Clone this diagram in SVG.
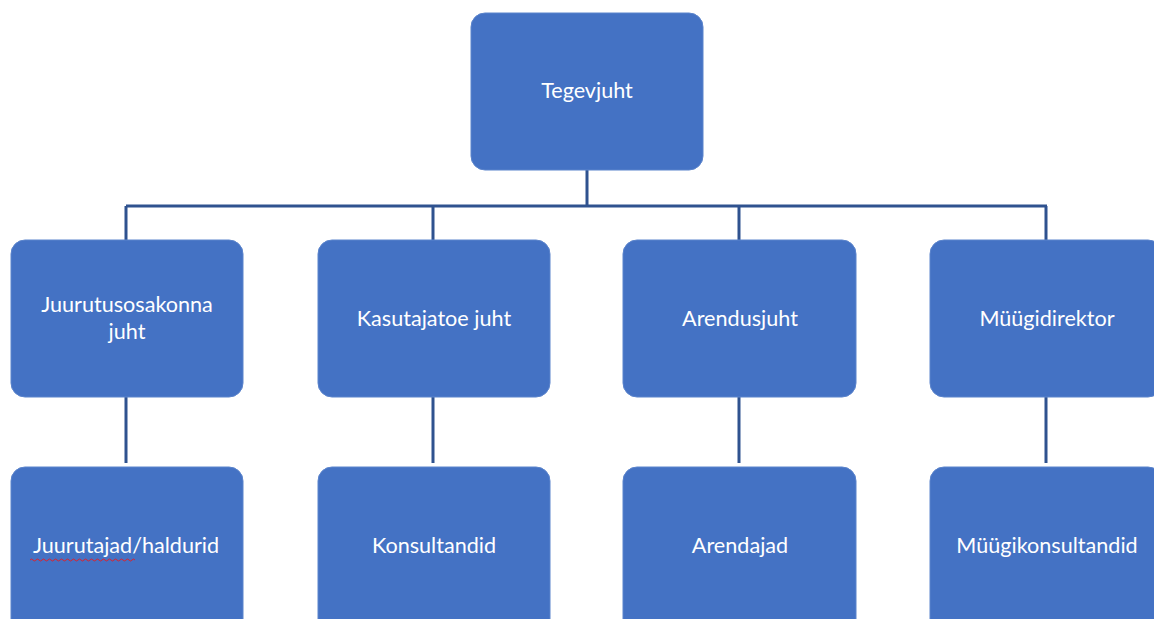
<svg xmlns="http://www.w3.org/2000/svg" width="1154" height="619" viewBox="0 0 1154 619">
<style>
.box{fill:#4472C4;stroke:#5B84CC;stroke-width:1}
.lbl{font-family:Lato,"Open Sans",sans-serif;font-size:21.6px;fill:#FFFFFF;text-anchor:middle}
.conn{fill:none;stroke:#2F528F;stroke-width:3}
</style>
<rect width="1154" height="619" fill="#FFFFFF"/>
<g id="connectors">
<path class="conn" d="M587,170 V206 M126,206 H1047 M126,206 V240 M433,206 V240 M739,206 V240 M1046,206 V240"/>
<path class="conn" d="M126,397 V463 M433,397 V463 M739,397 V463 M1046,397 V463"/>
</g>
<g id="n-tegevjuht"><rect class="box" x="471" y="13" width="232" height="157" rx="14"/><text class="lbl" x="587" y="98">Tegevjuht</text></g>
<g id="n-juurutus"><rect class="box" x="11" y="240" width="232" height="157" rx="14"/><text class="lbl" x="127" y="312">Juurutusosakonna</text><text class="lbl" x="127" y="339">juht</text></g>
<g id="n-kasutajatoe"><rect class="box" x="318" y="240" width="232" height="157" rx="14"/><text class="lbl" x="434" y="326">Kasutajatoe juht</text></g>
<g id="n-arendusjuht"><rect class="box" x="623" y="240" width="233" height="157" rx="14"/><text class="lbl" x="740" y="326">Arendusjuht</text></g>
<g id="n-myygidirektor"><rect class="box" x="930" y="240" width="232" height="157" rx="14"/><text class="lbl" x="1047" y="326">Müügidirektor</text></g>
<g id="n-juurutajad"><rect class="box" x="11" y="467" width="232" height="170" rx="14"/><text class="lbl" x="126" y="553">Juurutajad/haldurid</text>
<path d="M30,560 q1.5,-2 3,0 t3,0 t3,0 t3,0 t3,0 t3,0 t3,0 t3,0 t3,0 t3,0 t3,0 t3,0 t3,0 t3,0 t3,0 t3,0 t3,0 t3,0 t3,0 t3,0 t3,0 t3,0 t3,0 t3,0 t3,0 t3,0 t3,0 t3,0 t3,0 t3,0 t3,0 t3,0 t3,0 t3,0 t3,0" fill="none" stroke="#E0202A" stroke-width="1"/></g>
<g id="n-konsultandid"><rect class="box" x="318" y="467" width="232" height="170" rx="14"/><text class="lbl" x="434" y="553">Konsultandid</text></g>
<g id="n-arendajad"><rect class="box" x="623" y="467" width="233" height="170" rx="14"/><text class="lbl" x="740" y="553">Arendajad</text></g>
<g id="n-myygikonsultandid"><rect class="box" x="930" y="467" width="232" height="170" rx="14"/><text class="lbl" x="1047" y="553">Müügikonsultandid</text></g>
</svg>
